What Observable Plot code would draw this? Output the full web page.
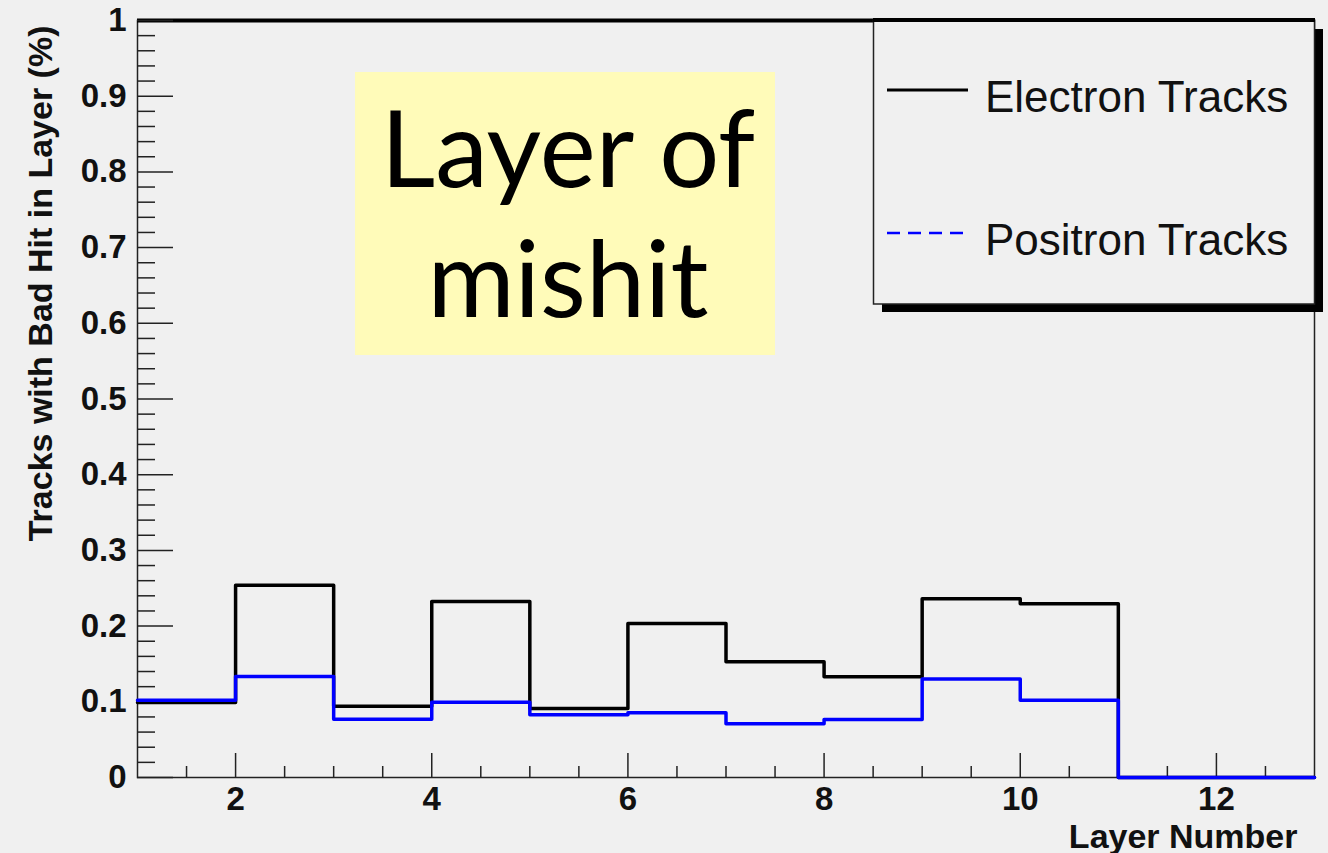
<!DOCTYPE html>
<html><head><meta charset="utf-8">
<script src="https://cdn.jsdelivr.net/npm/d3@7"></script>
<script src="https://cdn.jsdelivr.net/npm/@observablehq/plot@0.6"></script>
<style>
html,body{margin:0;padding:0;background:#f0f0f0;}
#wrap{position:relative;width:1328px;height:853px;overflow:hidden;background:#f0f0f0;}
#wrap svg{position:absolute;left:0;top:0;}
</style></head><body><div id="wrap"></div>
<script>
// ---- data ----
const binStarts = [1, 2, 3, 4, 5, 6, 7, 8, 9, 10, 11, 12];
const electron  = [0.099, 0.254, 0.094, 0.2325, 0.091, 0.2034, 0.153, 0.133, 0.236, 0.2295, 0, 0];
const positron  = [0.102, 0.1334, 0.077, 0.0995, 0.083, 0.0855, 0.071, 0.0766, 0.130, 0.102, 0, 0];
const xDomain = [1, 13];
const yDomain = [0, 1];
const xMajorTicks = [2, 4, 6, 8, 10, 12];
const yMajorTicks = [0, 0.1, 0.2, 0.3, 0.4, 0.5, 0.6, 0.7, 0.8, 0.9, 1];
const seriesNames = ["Electron Tracks", "Positron Tracks"];
const xTitle = "Layer Number";
const yTitle = "Tracks with Bad Hit in Layer (%)";
const noteLines = ["Layer of", "mishit"];

// ---- layout ----
const W = 1328, H = 853;
const mL = 137, mR = 14, mT = 20, mB = 76;
const frameW = W - mL - mR, frameH = H - mT - mB;

function steps(vals) {
  const pts = binStarts.map((x, i) => ({x, y: vals[i]}));
  pts.push({x: binStarts[binStarts.length - 1] + 1, y: vals[vals.length - 1]});
  return pts;
}
const xMinor = d3.range(xDomain[0] + 0.5, xDomain[1], 0.5).filter(v => !xMajorTicks.includes(v));
const yMinor = d3.range(0, 50).map(i => +(i * 0.02).toFixed(2)).filter(v => Math.abs(v * 10 - Math.round(v * 10)) > 1e-6);

const fmtY = d => (d === 0 || d === 1) ? String(d) : d.toFixed(1);

const chart = Plot.plot({
  width: W, height: H,
  marginLeft: mL, marginRight: mR, marginTop: mT, marginBottom: mB,
  x: {domain: xDomain},
  y: {domain: yDomain},
  style: {background: "#f0f0f0", fontFamily: "'Liberation Sans', Arial, sans-serif", fontSize: "33px", fontWeight: "bold", color: "#111"},
  marks: [
    Plot.frame({stroke: "#222", strokeWidth: 1.5}),
    Plot.ruleY([yDomain[1]], {stroke: "#000", strokeWidth: 4}),
    Plot.ruleY(yMinor, {stroke: "#222", strokeWidth: 1.5, insetRight: frameW - 18}),
    Plot.ruleY(yMajorTicks, {stroke: "#222", strokeWidth: 1.5, insetRight: frameW - 36}),
    Plot.ruleX(xMinor, {stroke: "#222", strokeWidth: 1.5, insetTop: frameH - 11}),
    Plot.ruleX(xMajorTicks, {stroke: "#222", strokeWidth: 1.5, insetTop: frameH - 24}),
    Plot.axisY(yMajorTicks, {tickSize: 0, tickPadding: 11, tickFormat: fmtY, label: null}),
    Plot.axisX(xMajorTicks, {tickSize: 0, tickPadding: 9, tickFormat: d => String(d), label: null}),
    Plot.line(steps(electron), {x: "x", y: "y", curve: "step-after", stroke: "#000", strokeWidth: 3.5}),
    Plot.line(steps(positron), {x: "x", y: "y", curve: "step-after", stroke: "#0000ff", strokeWidth: 3.5}),
    Plot.text([xTitle], {frameAnchor: "bottom-right", textAnchor: "end", lineAnchor: "bottom", dx: -17, dy: 70, fontSize: 34, fontWeight: "bold"}),
    Plot.text([yTitle], {frameAnchor: "top-left", textAnchor: "end", lineAnchor: "middle", rotate: -90, dx: -96, dy: 5, fontSize: 34, fontWeight: "bold"})
  ]
});
document.getElementById("wrap").appendChild(chart);

// ---- overlay: annotation box and legend ----
const ov = d3.select("#wrap").append("svg").attr("width", W).attr("height", H);
ov.append("rect").attr("x", 355).attr("y", 72).attr("width", 420).attr("height", 283).attr("fill", "#fffbb9");
noteLines.forEach((t, i) => {
  ov.append("text").attr("x", 568).attr("y", i === 0 ? 187 : 317).attr("text-anchor", "middle")
    .attr("font-family", "Lato, 'Open Sans', sans-serif").attr("font-size", 106).attr("fill", "#000").text(t);
});
// legend
ov.append("rect").attr("x", 882).attr("y", 29).attr("width", 441).attr("height", 283).attr("fill", "#000");
ov.append("rect").attr("x", 873.5).attr("y", 20).attr("width", 441).attr("height", 284).attr("fill", "#f0f0f0").attr("stroke", "#222").attr("stroke-width", 1.5);
ov.append("line").attr("x1", 873).attr("x2", 1315).attr("y1", 20).attr("y2", 20).attr("stroke", "#000").attr("stroke-width", 4);
const leg = [
  {name: seriesNames[0], y: 90, stroke: "#000", dash: null, w: 3},
  {name: seriesNames[1], y: 233, stroke: "#0000ff", dash: "13,8", w: 2.5}
];
leg.forEach(l => {
  ov.append("line").attr("x1", 887).attr("x2", 968).attr("y1", l.y).attr("y2", l.y)
    .attr("stroke", l.stroke).attr("stroke-width", l.w).attr("stroke-dasharray", l.dash);
  ov.append("text").attr("x", 985).attr("y", l.y + 22).attr("font-family", "'Liberation Sans', Arial, sans-serif")
    .attr("font-size", 44).attr("fill", "#111").text(l.name);
});
</script></body></html>
